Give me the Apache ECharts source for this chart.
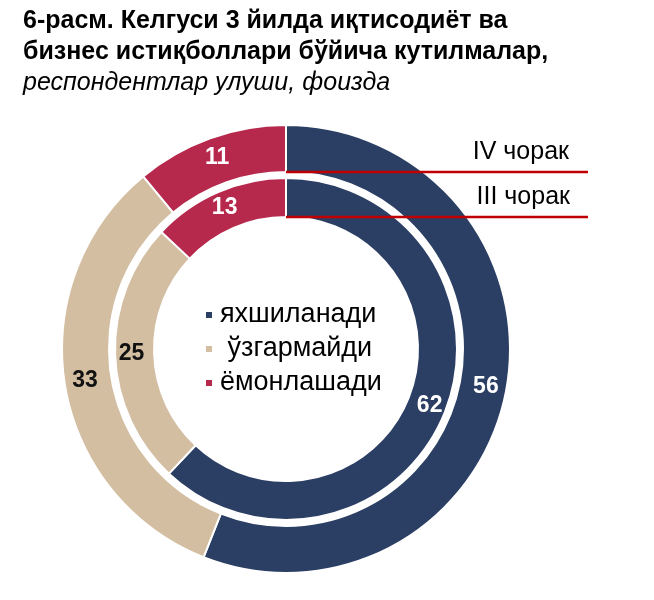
<!DOCTYPE html>
<html><head><meta charset="utf-8">
<script src="https://cdn.jsdelivr.net/npm/echarts@6/dist/echarts.min.js"></script>
<style>html,body{margin:0;padding:0;background:#fff}#c{width:654px;height:600px}</style>
</head><body><div id="c"></div>
<script>
const categories = ['яхшиланади', 'ўзгармайди', 'ёмонлашади'];
const q4Values = [56, 33, 11];   // IV чорак (outer ring)
const q3Values = [62, 25, 13];   // III чорак (inner ring)
const ringNames = ['IV чорак', 'III чорак'];
const colors = ['#2B3E63', '#D3BEA2', '#B6294D'];
const labelColors = ['#ffffff', '#111111', '#ffffff'];

const cx = 286, cy = 349;
const outerR = [177, 224], innerR = [132, 171];
const FONT = '"Liberation Sans", Arial, sans-serif';

function toData(vals) {
  return vals.map((v, i) => ({
    name: categories[i], value: v,
    itemStyle: { color: colors[i] },
    label: { color: labelColors[i] }
  }));
}

const chart = echarts.init(document.getElementById('c'));
const pieBase = {
  type: 'pie', center: [cx, cy], startAngle: 90, clockwise: true,
  avoidLabelOverlap: false, silent: true,
  itemStyle: { borderColor: '#ffffff', borderWidth: 2 },
  label: { show: true, position: 'inside', formatter: '{c}', fontFamily: FONT, fontWeight: 'bold', fontSize: 23 },
  labelLine: { show: false }, emphasis: { disabled: true }
};

chart.setOption({
  animation: false,
  title: {
    left: 18, top: 1,
    text: '{b|6-расм. Келгуси 3 йилда иқтисодиёт ва}\n{b|бизнес истиқболлари бўйича кутилмалар,}\n{i|респондентлар улуши, фоизда}',
    textStyle: {
      fontWeight: 'normal',
      rich: {
        b: { fontFamily: FONT, fontWeight: 'bold', fontSize: 25, color: '#000', lineHeight: 31 },
        i: { fontFamily: FONT, fontStyle: 'italic', fontWeight: 'normal', fontSize: 25, color: '#000', lineHeight: 31 }
      }
    }
  },
  legend: {
    orient: 'vertical', left: 199, top: 293, itemGap: 0,
    icon: 'rect', itemWidth: 8, itemHeight: 8,
    data: categories,
    formatter: n => n === 'ўзгармайди' ? ' ' + n : n,
    textStyle: { fontFamily: FONT, fontSize: 27, color: '#000', lineHeight: 34, padding: [0, 0, 0, 2] },
    selectedMode: false
  },
  series: [
    Object.assign({}, pieBase, { name: ringNames[0], radius: outerR, data: toData(q4Values) }),
    Object.assign({}, pieBase, { name: ringNames[1], radius: innerR, data: toData(q3Values) })
  ],
  graphic: [
    { type: 'line', shape: { x1: cx, y1: cy - outerR[0], x2: 588, y2: cy - outerR[0] }, style: { stroke: '#C00000', lineWidth: 2.5 }, z: 100 },
    { type: 'line', shape: { x1: cx, y1: cy - innerR[0], x2: 588, y2: cy - innerR[0] }, style: { stroke: '#C00000', lineWidth: 2.5 }, z: 100 },
    { type: 'text', right: 654 - 569, top: cy - outerR[0] - 32, style: { text: ringNames[0], font: '25px ' + FONT, fill: '#000' }, z: 100 },
    { type: 'text', right: 654 - 570, top: cy - innerR[0] - 32, style: { text: ringNames[1], font: '25px ' + FONT, fill: '#000' }, z: 100 }
  ]
});
</script></body></html>
